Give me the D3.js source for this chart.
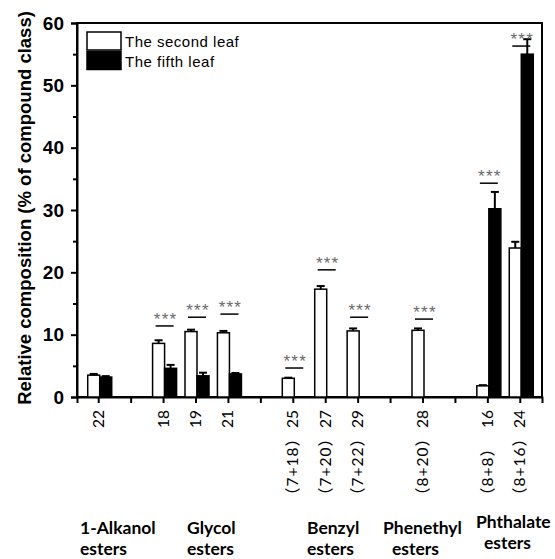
<!DOCTYPE html>
<html>
<head>
<meta charset="utf-8">
<script src="https://cdn.jsdelivr.net/npm/d3@7/dist/d3.min.js"></script>
<style>
  body{margin:0;background:#fff;}
  svg{display:block;}
</style>
</head>
<body>
<svg id="chart" width="555" height="559"></svg>
<script>
/* ---------- data ---------- */
const categories = ["22","gA","18","19","21","gB","25","27","29","gC","28","gD","16","24"];
const tickLabels = ["22","","18","19","21","","25","27","29","","28","","16","24"];
const compLabels = ["","","","","","","（7+18）","（7+20）","（7+22）","","（8+20）","","（8+8）","（8+16）"];
const secondLeaf    = [3.5, null, 8.6, 10.5, 10.3, null, 3.0, 17.3, 10.6, null, 10.7, null, 1.8, 23.9];
const secondLeafErr = [0.2, null, 0.5, 0.3, 0.3, null, 0.1, 0.5, 0.4, null, 0.3, null, 0.1, 1.0];
const fifthLeaf     = [3.2, null, 4.6, 3.4, 3.7, null, 0, 0, 0, null, 0, null, 30.2, 55.0];
const fifthLeafErr  = [0.15, null, 0.55, 0.5, 0.15, null, 0, 0, 0, null, 0, null, 2.7, 2.4];
const sigLevel      = [null, null, 11.4, 12.8, 13.3, null, 4.65, 20.4, 12.8, null, 12.5, null, 34.3, 56.3];
const groupNames = [["1-Alkanol","esters"],["Glycol","esters"],["Benzyl","esters"],["Phenethyl","esters"],["Phthalate","esters"]];
const seriesNames = ["The second leaf","The fifth leaf"];
const yMajor = [0,10,20,30,40,50,60];
const yMinor = [5,15,25,35,45,55];

/* ---------- layout ---------- */
const L=77, R=542, T=23, B=397;
const svg=d3.select("#chart");

const x=d3.scaleBand().domain(categories).range([L,R]).paddingInner(0).paddingOuter(0.17);
const cx=c=>x(c)+x.bandwidth()/2;
const y=d3.scaleLinear().domain([0,60]).range([B,T]);
const barW=12;

/* frame */
svg.append("rect").attr("x",L).attr("y",T).attr("width",R-L).attr("height",B-T)
   .attr("fill","none").attr("stroke","#000").attr("stroke-width",2);

/* y axis */
const ya=svg.append("g").attr("transform",`translate(${L},0)`)
  .call(d3.axisLeft(y).tickValues(yMajor).tickSize(6).tickPadding(7).tickFormat(d3.format("d")));
ya.select(".domain").attr("stroke-width",2);
ya.selectAll(".tick line").attr("stroke-width",2);
ya.selectAll(".tick text").attr("font-family","'Liberation Sans',Arial,sans-serif")
  .attr("font-size",19).attr("font-weight","bold").attr("fill","#000");
const ym=svg.append("g").attr("transform",`translate(${L},0)`)
  .call(d3.axisLeft(y).tickValues(yMinor).tickSize(4).tickFormat(""));
ym.select(".domain").remove();
ym.selectAll(".tick line").attr("stroke-width",2);

svg.append("text")
   .attr("transform",`translate(31,${(T+B)/2-2}) rotate(-90)`)
   .attr("text-anchor","middle")
   .attr("font-family","'Liberation Sans',Arial,sans-serif")
   .attr("font-size",18.5).attr("font-weight","bold")
   .text("Relative composition (% of compound class)");

/* x axis */
const xa=svg.append("g").attr("transform",`translate(0,${B})`)
  .call(d3.axisBottom(x).tickSize(6).tickFormat(""));
xa.select(".domain").attr("stroke-width",2);
xa.selectAll(".tick line").attr("stroke-width",2);

const tickFont="Lato,'Noto Sans CJK SC',sans-serif";
svg.append("g").selectAll("text").data(categories).join("text")
   .attr("transform",c=>`translate(${cx(c)+5},${B+13}) rotate(-90)`)
   .attr("text-anchor","end")
   .attr("font-family",tickFont).attr("font-size",15.5)
   .text((c,i)=>tickLabels[i]);
svg.append("g").selectAll("text").data(categories).join("text")
   .attr("transform",c=>`translate(${cx(c)+5},503) rotate(-90)`)
   .attr("text-anchor","start")
   .attr("font-family",tickFont).attr("font-size",15.5)
   .attr("letter-spacing",1)
   .text((c,i)=>compLabels[i]);

/* bars */
const rows=categories.map((c,i)=>({c,i,s:secondLeaf[i],se:secondLeafErr[i],f:fifthLeaf[i],fe:fifthLeafErr[i],sig:sigLevel[i]}));
const bars=svg.append("g");
const capW=8;
function errBar(g,xc,v,e){
  if(!e) return;
  g.append("line").attr("x1",xc).attr("x2",xc).attr("y1",y(v)).attr("y2",y(v+e))
   .attr("stroke","#000").attr("stroke-width",2);
  g.append("line").attr("x1",xc-capW/2).attr("x2",xc+capW/2).attr("y1",y(v+e)).attr("y2",y(v+e))
   .attr("stroke","#000").attr("stroke-width",2);
}
rows.filter(d=>d.s!=null).forEach(d=>{
  const c0=cx(d.c)+1;
  if(d.s>0){
    bars.append("rect").attr("x",c0-barW).attr("y",y(d.s)).attr("width",barW).attr("height",B-y(d.s))
        .attr("fill","#fff").attr("stroke","#000").attr("stroke-width",1.5);
    errBar(bars,c0-barW/2,d.s,d.se);
  }
  if(d.f>0){
    bars.append("rect").attr("x",c0).attr("y",y(d.f)).attr("width",barW).attr("height",B-y(d.f))
        .attr("fill","#000").attr("stroke","#000").attr("stroke-width",1.5);
    errBar(bars,c0+barW/2,d.f,d.fe);
  }
});

/* significance marks */
const sig=svg.append("g");
rows.filter(d=>d.sig!=null).forEach(d=>{
  const c0=cx(d.c)+1, ly=y(d.sig);
  sig.append("line").attr("x1",c0-9).attr("x2",c0+9).attr("y1",ly).attr("y2",ly)
     .attr("stroke","#000").attr("stroke-width",1.5);
  sig.append("text").attr("x",c0+1).attr("y",ly-1).attr("text-anchor","middle")
     .attr("font-family","'Liberation Sans',Arial,sans-serif").attr("font-size",17)
     .attr("letter-spacing",1.2).attr("fill","#6a6a6a").text("***");
});

/* legend */
const lg=svg.append("g");
seriesNames.forEach((n,i)=>{
  lg.append("rect").attr("x",87).attr("y",32+i*19.5).attr("width",34).attr("height",18)
    .attr("fill",i?"#000":"#fff").attr("stroke","#000").attr("stroke-width",1.5);
  lg.append("text").attr("x",125).attr("y",47+i*19.5)
    .attr("font-family","'Liberation Sans',Arial,sans-serif").attr("font-size",15)
    .attr("letter-spacing",0.5).text(n);
});

/* group labels */
const groupPos=[[80,80,534],[187,187,534],[307,307,534],[383,392,534],[476,484,528]];
const gl=svg.append("g").attr("font-family","Lato,sans-serif").attr("font-size",17.5).attr("font-weight","bold");
groupNames.forEach((g,i)=>{
  const [x1,x2,by]=groupPos[i];
  gl.append("text").attr("x",x1).attr("y",by).text(g[0]);
  gl.append("text").attr("x",x2).attr("y",by+21).text(g[1]);
});
</script>
</body>
</html>
